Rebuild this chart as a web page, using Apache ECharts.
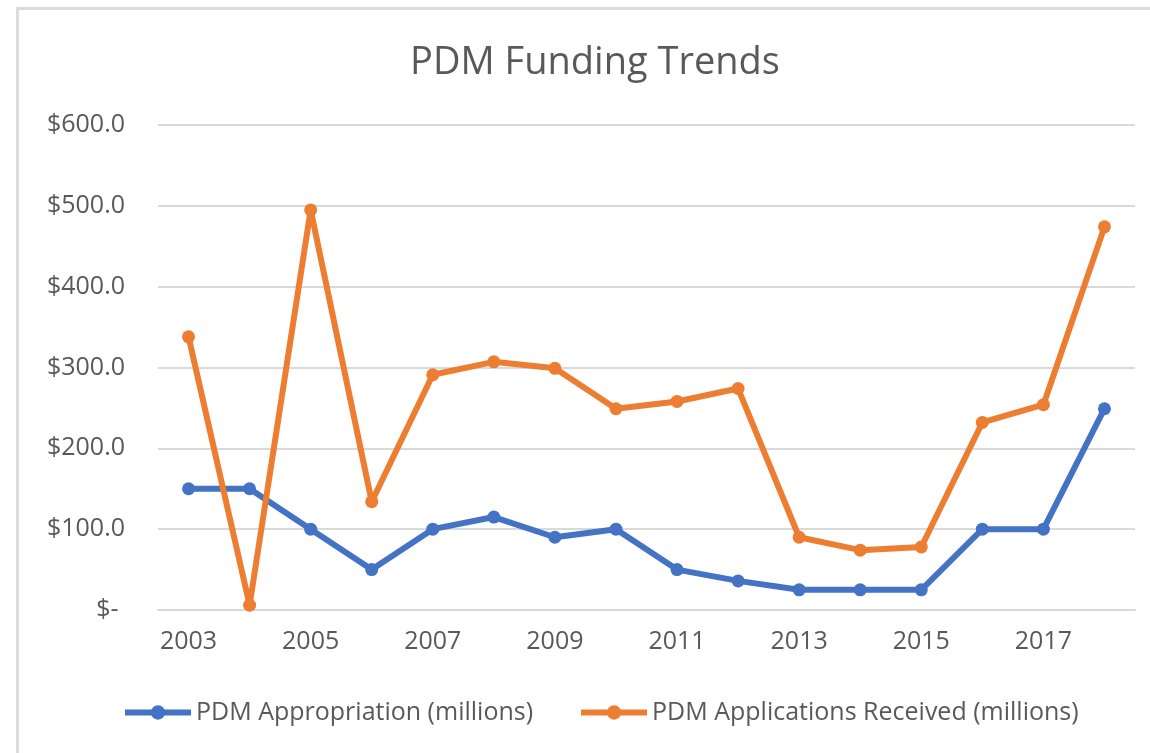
<!DOCTYPE html>
<html>
<head>
<meta charset="utf-8">
<script src="https://cdn.jsdelivr.net/npm/echarts@6/dist/echarts.min.js"></script>
<style>
    html, body { margin: 0; padding: 0; background: #fff; }
    #chart { width: 1150px; height: 753px; }
    #frame {
        position: absolute; left: 16px; top: 7px; right: 0; bottom: 0;
        border-left: 3px solid #dcdcdc; border-top: 3px solid #dcdcdc;
        pointer-events: none;
    }
</style>
</head>
<body>
<div id="chart"></div>
<div id="frame"></div>
<script type="text/javascript">
    // data (millions of dollars)
    var years = ['2003', '2004', '2005', '2006', '2007', '2008', '2009', '2010',
                 '2011', '2012', '2013', '2014', '2015', '2016', '2017', '2018'];
    var appropriation = [150, 150, 100, 50, 100, 115, 90, 100, 50, 36, 25, 25, 25, 100, 100, 249];
    var applications = [338, 6, 495, 134, 291, 307, 299, 249, 258, 274, 90, 74, 78, 232, 254, 474];
    var yTicks = [0, 100, 200, 300, 400, 500, 600];

    var font = 'Open Sans';
    var textColor = '#595959';

    var myChart = echarts.init(document.getElementById('chart'));
    var option = {
        backgroundColor: '#ffffff',
        animation: false,
        title: {
            text: 'PDM Funding Trends',
            left: 590,
            top: 39,
            textAlign: 'center',
            textStyle: {
                color: textColor,
                fontFamily: font,
                fontSize: 38,
                fontWeight: 'normal'
            }
        },
        legend: {
            left: 122,
            top: 700,
            padding: 0,
            itemWidth: 66,
            itemHeight: 18,
            itemGap: 45,
            lineStyle: { width: 6 },
            textStyle: {
                color: textColor,
                fontFamily: font,
                fontSize: 25
            },
            data: ['PDM Appropriation (millions)', 'PDM Applications Received (millions)']
        },
        grid: {
            left: 158,
            right: 15,
            top: 125,
            bottom: 143
        },
        xAxis: {
            type: 'category',
            data: years,
            boundaryGap: true,
            axisLine: { lineStyle: { color: '#d9d9d9', width: 2 } },
            axisTick: { show: false },
            axisLabel: {
                interval: 1,
                margin: 19,
                color: textColor,
                fontFamily: font,
                fontSize: 25
            }
        },
        yAxis: {
            type: 'value',
            min: yTicks[0],
            max: yTicks[yTicks.length - 1],
            interval: 100,
            axisLine: { show: false },
            axisTick: { show: false },
            splitLine: { lineStyle: { color: '#d9d9d9', width: 2 } },
            axisLabel: {
                margin: 33,
                color: textColor,
                fontFamily: font,
                fontSize: 25,
                formatter: function (v) {
                    return v === 0 ? '$- ' : '$' + v.toFixed(1);
                }
            }
        },
        series: [
            {
                name: 'PDM Appropriation (millions)',
                type: 'line',
                data: appropriation,
                symbol: 'circle',
                symbolSize: 13,
                color: '#4472c4',
                lineStyle: { width: 6, color: '#4472c4' },
                itemStyle: { color: '#4472c4' }
            },
            {
                name: 'PDM Applications Received (millions)',
                type: 'line',
                data: applications,
                symbol: 'circle',
                symbolSize: 13,
                color: '#ed7d31',
                lineStyle: { width: 6, color: '#ed7d31' },
                itemStyle: { color: '#ed7d31' }
            }
        ]
    };

    if (option && typeof option === "object") {
        myChart.setOption(option, true);
    }
</script>
</body>
</html>
